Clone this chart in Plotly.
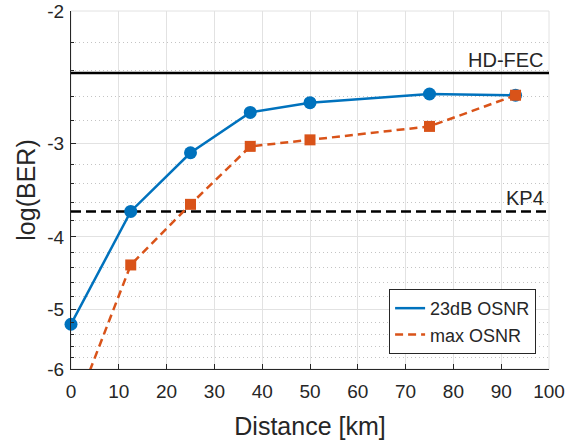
import math
import plotly.graph_objects as go

# ---- data ----
distance_km = [0, 12.5, 25, 37.5, 50, 75, 93]
log_ber_23dB = [-5.23, -3.70, -3.09, -2.73, -2.65, -2.58, -2.59]
log_ber_max = [-7.0, -4.36, -3.62, -3.03, -2.97, -2.85, -2.59]
hd_fec_level = -2.42
kp4_level = -3.70
x_ticks = [0, 10, 20, 30, 40, 50, 60, 70, 80, 90, 100]
y_ticks = [-2, -3, -4, -5, -6]
y_minor = [-2.2, -2.4, -2.6, -2.8, -3.2, -3.4, -3.6, -3.8,
           -4.2, -4.4, -4.6, -4.8, -5.2, -5.4, -5.6, -5.8]

BLUE = "#0072BD"
ORANGE = "#D95319"
AX = "#262626"
GRID = "#e2e2e2"
FONT = "Liberation Sans, Arial, sans-serif"

# axis plots -log(BER) on a reversed log scale
def tr(v):
    return [-a for a in v]

fig = go.Figure()

# light box on top/right (as in the reference)
fig.add_shape(type="rect", xref="paper", yref="paper", x0=0, x1=1, y0=0, y1=1,
              line=dict(color=GRID, width=1), layer="below")

# thresholds
fig.add_trace(go.Scatter(x=[0, 100], y=tr([hd_fec_level, hd_fec_level]), mode="lines",
                         line=dict(color="black", width=2.5), showlegend=False, hoverinfo="skip"))
fig.add_trace(go.Scatter(x=[0, 100], y=tr([kp4_level, kp4_level]), mode="lines",
                         line=dict(color="black", width=2.5, dash="10px,5px"),
                         showlegend=False, hoverinfo="skip"))

# series
fig.add_trace(go.Scatter(x=distance_km, y=tr(log_ber_23dB), mode="lines", name="23dB OSNR",
                         line=dict(color=BLUE, width=2.5)))
fig.add_trace(go.Scatter(x=distance_km, y=tr(log_ber_23dB), mode="markers", showlegend=False,
                         cliponaxis=False,
                         marker=dict(color=BLUE, size=13, symbol="circle")))
fig.add_trace(go.Scatter(x=distance_km, y=tr(log_ber_max), mode="lines", name="max OSNR",
                         line=dict(color=ORANGE, width=2.5, dash="8px,5px")))
fig.add_trace(go.Scatter(x=distance_km, y=tr(log_ber_max), mode="markers", showlegend=False,
                         marker=dict(color=ORANGE, size=11, symbol="square")))

fig.add_annotation(x=99.3, y=math.log10(-hd_fec_level), xref="x", yref="y", text="HD-FEC",
                   showarrow=False, xanchor="right", yanchor="bottom", yshift=0,
                   font=dict(size=20, color=AX, family=FONT))
fig.add_annotation(x=99.3, y=math.log10(-kp4_level), xref="x", yref="y", text="KP4",
                   showarrow=False, xanchor="right", yanchor="bottom", yshift=0,
                   font=dict(size=20, color=AX, family=FONT))

fig.update_layout(
    width=574, height=441,
    margin=dict(l=71, r=25, t=11, b=72, autoexpand=False),
    paper_bgcolor="white", plot_bgcolor="white",
    font=dict(family=FONT, color=AX),
    showlegend=True,
    legend=dict(x=0.973, y=0.042, xanchor="right", yanchor="bottom",
                bgcolor="white", bordercolor=AX, borderwidth=1, tracegroupgap=0,
                traceorder="normal",
                font=dict(size=18, color=AX, family=FONT)),
    xaxis=dict(range=[0, 100], tickmode="array", tickvals=x_ticks, automargin=False,
               ticks="inside", ticklen=5, tickcolor=AX,
               showline=True, linecolor=AX, linewidth=1,
               showgrid=True, gridcolor=GRID, gridwidth=1, zeroline=False,
               tickfont=dict(size=19, color=AX, family=FONT),
               ticklabelstandoff=5,
               title=dict(text="Distance [km]", font=dict(size=25, color=AX, family=FONT), standoff=16)),
    yaxis=dict(type="log", range=[math.log10(6), math.log10(2)], automargin=False,
               tickmode="array", tickvals=tr(y_ticks), ticktext=[str(t) for t in y_ticks],
               ticks="inside", ticklen=5, tickcolor=AX,
               showline=True, linecolor=AX, linewidth=1,
               showgrid=True, gridcolor=GRID, gridwidth=1, zeroline=False,
               tickfont=dict(size=19, color=AX, family=FONT),
               ticklabelstandoff=2,
               minor=dict(tickmode="array", tickvals=tr(y_minor), ticks="inside", ticklen=3,
                          tickcolor=AX, showgrid=True, gridcolor="#c4c4c4",
                          griddash="1px,3px", gridwidth=1),
               title=dict(text="log(BER)", font=dict(size=25, color=AX, family=FONT), standoff=4)),
)

fig.write_html("out.html")
